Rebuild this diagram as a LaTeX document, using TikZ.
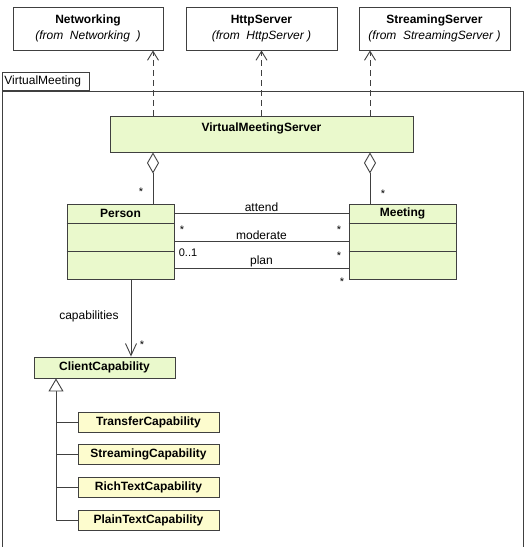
\documentclass[tikz,border=0pt]{standalone}
\usepackage{fontspec}
\setmainfont{Liberation Sans}
\usetikzlibrary{arrows.meta,positioning,calc}

\definecolor{classgreen}{RGB}{234,249,204}
\definecolor{subyellow}{RGB}{253,252,206}
\definecolor{umlline}{RGB}{64,64,64}

\begin{document}
\begin{tikzpicture}[
  x=1pt, y=-1pt,
  font=\fontsize{12}{16}\selectfont,
  outer/.style={
    draw=umlline,
    line width=.9pt,
    fill=white,
    minimum height=43pt,
    align=center,
    inner sep=0pt
  },
  cls/.style={
    draw=umlline,
    line width=.9pt,
    fill=classgreen,
    inner sep=0pt,
    font=\fontsize{12}{14}\selectfont\bfseries
  },
  subcls/.style={cls, fill=subyellow, minimum width=141pt, minimum height=20pt},
  title/.style={inner sep=0pt, minimum height=20pt, font=\fontsize{12}{14}\selectfont\bfseries},
  mult/.style={inner sep=0pt, font=\fontsize{11}{13}\selectfont},
  role/.style={inner sep=1pt, font=\fontsize{12}{14}\selectfont},
  assoc/.style={draw=umlline, line width=.9pt},
  depend/.style={assoc, dash pattern=on 6pt off 4pt, -{Straight Barb[length=9pt, width=11pt]}},
  aggreg/.style={assoc, {Diamond[open, fill=white, length=21pt, width=12pt]}-},
  navig/.style={assoc, -{Straight Barb[length=12pt, width=11pt]}},
  inherit/.style={assoc, {Triangle[open, fill=white, length=13pt, width=15pt]}-},
  node distance=12pt
]
\useasboundingbox (0,0) rectangle (526,547);

% imported packages
\node[outer, minimum width=150pt] (networking) at (88,28.5)
  {\textbf{Networking}\\\textit{(from\ \ Networking\ \ )}};
\node[outer, minimum width=151pt] (httpserver) at (261.5,28.5)
  {\textbf{HttpServer}\\\textit{(from\ \ HttpServer )}};
\node[outer, minimum width=151pt] (streamserver) at (434.5,28.5)
  {\textbf{StreamingServer}\\\textit{(from\ \ StreamingServer )}};

% package frame
\node[draw=umlline, line width=.9pt, anchor=south west, minimum width=87pt,
  minimum height=18pt, inner xsep=2pt, inner ysep=0pt, text width=83pt,
  align=left] (pkg-tab) at (2,91) {VirtualMeeting};
\draw[assoc] (pkg-tab.south west) rectangle (523,560);

% classes
\node[cls, minimum width=303pt, text height=15pt, text depth=21pt] (vms)
  at (261.5,134) {VirtualMeetingServer};

\node[cls, minimum width=107pt, minimum height=75pt] (person) at (120.5,241.5) {};
\node[title, below=0pt of person.north] (person-title) {Person};
\node[cls, minimum width=107pt, minimum height=75pt] (meeting) at (402.5,241.5) {};
\node[title, below=0pt of meeting.north] (meeting-title) {Meeting};
\foreach \c in {person,meeting} {
  \draw[assoc] ([yshift=-20pt]\c.north west) -- ([yshift=-20pt]\c.north east);
  \draw[assoc] ([yshift=-48pt]\c.north west) -- ([yshift=-48pt]\c.north east);
}

\node[cls, minimum width=141pt, minimum height=21pt] (client) at (104.5,367.5)
  {ClientCapability};

\node[subcls] (transfer) at (148.5,422) {TransferCapability};
\node[subcls, below=of transfer] (streaming) {StreamingCapability};
\node[subcls, below=of streaming] (richtext) {RichTextCapability};
\node[subcls, below=of richtext] (plaintext) {PlainTextCapability};

% dependencies
\coordinate (dep-net) at (153,0);
\coordinate (dep-http) at (261.5,0);
\coordinate (dep-stream) at (370,0);
\draw[depend] (vms.north -| dep-net) -- (networking.south -| dep-net);
\draw[depend] (vms.north -| dep-http) -- (httpserver.south -| dep-http);
\draw[depend] (vms.north -| dep-stream) -- (streamserver.south -| dep-stream);

% aggregations
\draw[aggreg] (vms.south -| dep-net) -- (person.north -| dep-net);
\draw[aggreg] (vms.south -| dep-stream) -- (meeting.north -| dep-stream);
\node[mult] (m-person) at (141,191.5) {*};
\node[mult] (m-meeting) at (383,193.5) {*};

% associations
\coordinate (attend-l) at ([yshift=-10pt]person.north east);
\coordinate (moderate-l) at ([yshift=-38pt]person.north east);
\coordinate (plan-l) at ([yshift=-65pt]person.north east);
\draw[assoc] (attend-l) -- node[role, above] {attend} (attend-l -| meeting.west);
\draw[assoc] (moderate-l) -- node[role, above] {moderate} (moderate-l -| meeting.west);
\draw[assoc] (plan-l) -- node[role, above] {plan} (plan-l -| meeting.west);
\node[mult] (m-attend-l) at (182,229.5) {*};
\node[mult] (m-attend-r) at (339,229.5) {*};
\node[mult] (m-moderate-l) at (188,253) {0..1};
\node[mult] (m-moderate-r) at (339,255.5) {*};
\node[mult] (m-plan-r) at (342,281.5) {*};

% navigation
\coordinate (nav) at (131,0);
\draw[navig] (person.south -| nav) -- (client.north -| nav);
\node[role] (cap-label) at (89,316) {capabilities};
\node[mult] (m-cap) at (142,344.5) {*};

% generalization
\coordinate (gen) at (56,0);
\draw[inherit] (client.south -| gen) -- (gen |- plaintext.west) -- (plaintext.west);
\foreach \s in {transfer,streaming,richtext}
  \draw[assoc] (gen |- \s.west) -- (\s.west);
\end{tikzpicture}
\end{document}
